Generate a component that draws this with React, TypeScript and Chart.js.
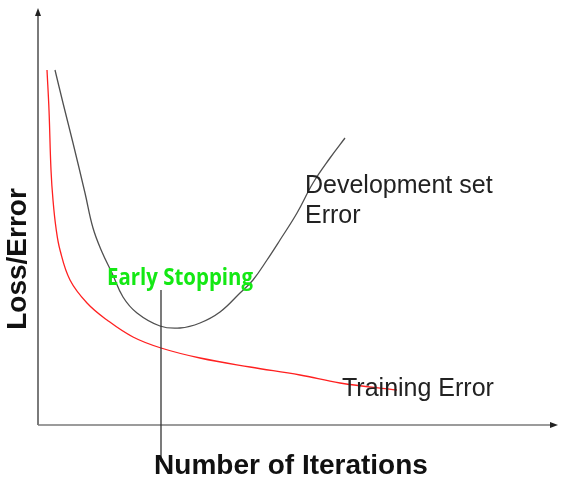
import React, { useEffect, useRef } from "react";
import { Chart, registerables } from "chart.js";

Chart.register(...registerables);

// Iterations (x) and error (y) in arbitrary units
const trainingX = [9, 11, 13, 15, 18, 22, 32, 49, 69, 95, 123, 162, 212, 262, 302, 359];
const trainingY = [355, 315, 255, 225, 197, 175, 145, 122, 105, 88, 77, 67, 58, 50, 42, 35];
const devX = [17, 25, 35, 47, 55, 64, 74, 85, 99, 122, 142, 162, 182, 202, 215, 229, 242, 259, 275, 292, 307];
const devY = [355, 322, 282, 232, 197, 173, 152, 128, 112, 99, 97, 102, 113, 132, 145, 165, 185, 212, 242, 267, 287];

const earlyStopX = 123;
const earlyStopTop = 135;
const earlyStopBottom = -37;

const xTitle = "Number of Iterations";
const yTitle = "Loss/Error";
const devLabel = ["Development set", "Error"];
const trainLabel = "Training Error";
const stopLabel = "Early Stopping";

const X_MAX = 519;
const Y_MAX = 415;

const overlay = {
  id: "overlay",
  afterDatasetsDraw(chart: any) {
    const { ctx, chartArea, scales } = chart;
    const xs = scales.x;
    const ys = scales.y;
    ctx.save();
    // axes
    const ox = chartArea.left;
    const oy = chartArea.bottom;
    ctx.strokeStyle = "#7a7a7a";
    ctx.lineWidth = 2;
    ctx.beginPath();
    ctx.moveTo(ox, oy);
    ctx.lineTo(ox, chartArea.top + 4);
    ctx.stroke();
    ctx.lineWidth = 1.5;
    ctx.beginPath();
    ctx.moveTo(ox, oy);
    ctx.lineTo(chartArea.right - 5, oy);
    ctx.stroke();
    // arrowheads
    ctx.fillStyle = "#222";
    ctx.beginPath();
    ctx.moveTo(ox, chartArea.top - 2);
    ctx.lineTo(ox - 3, chartArea.top + 6);
    ctx.lineTo(ox + 3, chartArea.top + 6);
    ctx.closePath();
    ctx.fill();
    ctx.beginPath();
    ctx.moveTo(chartArea.right + 1, oy);
    ctx.lineTo(chartArea.right - 7, oy - 3);
    ctx.lineTo(chartArea.right - 7, oy + 3);
    ctx.closePath();
    ctx.fill();

    // early stopping line
    const sx = xs.getPixelForValue(earlyStopX);
    ctx.strokeStyle = "#333";
    ctx.lineWidth = 1.3;
    ctx.beginPath();
    ctx.moveTo(sx, ys.getPixelForValue(earlyStopTop));
    ctx.lineTo(sx, ys.getPixelForValue(earlyStopBottom));
    ctx.stroke();

    // axis titles
    ctx.fillStyle = "#111";
    ctx.font = "bold 28px 'Liberation Sans', Arial, sans-serif";
    ctx.textAlign = "center";
    ctx.textBaseline = "alphabetic";
    ctx.fillText(xTitle, 291, 474);
    ctx.save();
    ctx.translate(26, 259);
    ctx.rotate(-Math.PI / 2);
    ctx.fillText(yTitle, 0, 0);
    ctx.restore();

    // curve labels
    ctx.fillStyle = "#222";
    ctx.font = "25px 'Liberation Sans', Arial, sans-serif";
    ctx.textAlign = "left";
    ctx.fillText(devLabel[0], 305, 193);
    ctx.fillText(devLabel[1], 305, 223);
    ctx.fillText(trainLabel, 342, 396);

    // early stopping label
    ctx.fillStyle = "#14e814";
    ctx.font = "bold 23px 'Open Sans', sans-serif";
    ctx.textAlign = "left";
    ctx.save();
    ctx.translate(107, 285);
    const w = ctx.measureText(stopLabel).width;
    ctx.scale(146 / w, 1);
    ctx.fillText(stopLabel, 0, 0);
    ctx.restore();
    ctx.restore();
  },
};

export default function App() {
  const ref = useRef<HTMLCanvasElement | null>(null);
  useEffect(() => {
    if (!ref.current) return;
    const chart = new Chart(ref.current, {
      type: "line",
      data: {
        datasets: [
          {
            label: "Training Error",
            data: trainingX.map((x, i) => ({ x, y: trainingY[i] })),
            borderColor: "#ff2020",
            borderWidth: 1.3,
            pointRadius: 0,
            tension: 0.4,
            fill: false,
          },
          {
            label: "Development set Error",
            data: devX.map((x, i) => ({ x, y: devY[i] })),
            borderColor: "#505050",
            borderWidth: 1.3,
            pointRadius: 0,
            tension: 0.4,
            fill: false,
          },
        ],
      },
      options: {
        responsive: false,
        animation: false,
        layout: { padding: { left: 38, top: 10, right: 5, bottom: 57 } },
        plugins: { legend: { display: false }, tooltip: { enabled: false } },
        scales: {
          x: { type: "linear", min: 0, max: X_MAX, display: false },
          y: { type: "linear", min: 0, max: Y_MAX, display: false },
        },
      },
      plugins: [overlay],
    });
    return () => chart.destroy();
  }, []);
  return (
    <div style={{ position: "fixed", left: 0, top: 0, width: 562, height: 482, background: "#fff" }}>
      <canvas ref={ref} width={562} height={482} />
    </div>
  );
}
